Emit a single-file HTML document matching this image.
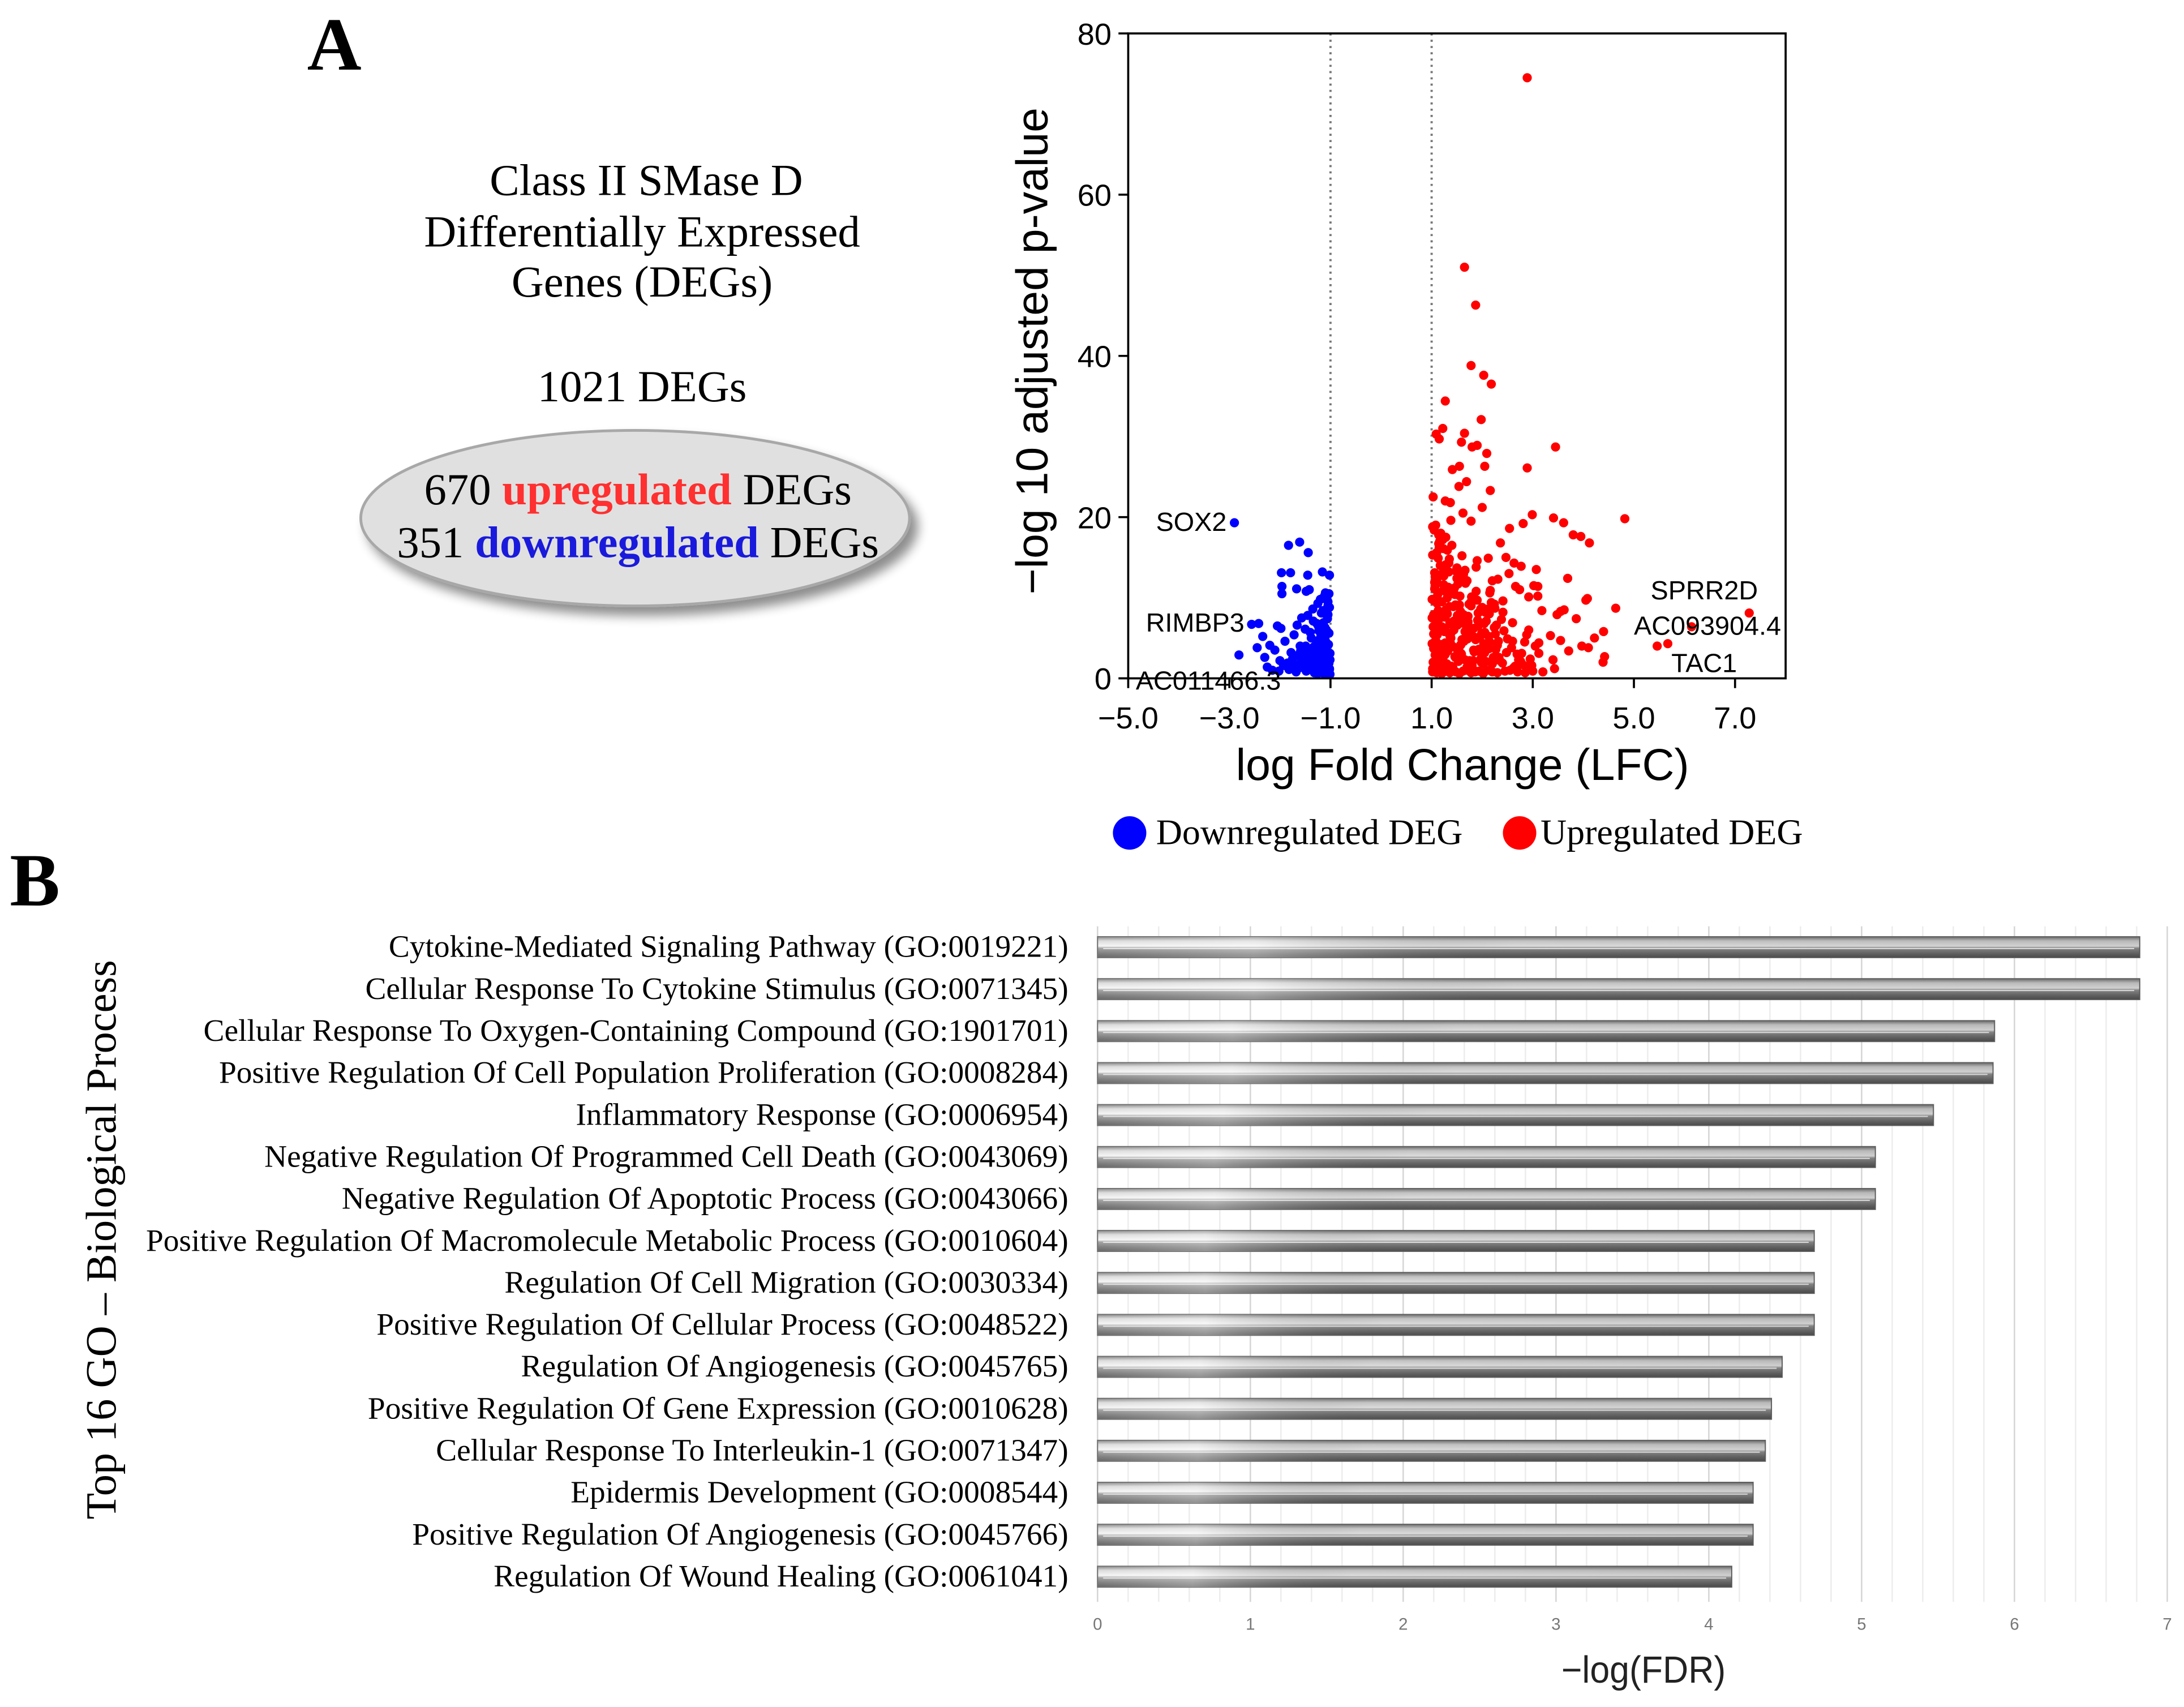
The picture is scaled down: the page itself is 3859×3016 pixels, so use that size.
<!DOCTYPE html>
<html><head><meta charset="utf-8">
<style>
html,body{margin:0;padding:0;background:#fff;}
svg{display:block;}
.serif{font-family:"Liberation Serif",serif;}
.sans{font-family:"Liberation Sans",sans-serif;}
</style></head>
<body>
<svg id="fig" width="3859" height="3016" viewBox="0 0 1568 1225.5" xmlns="http://www.w3.org/2000/svg">
<defs>
  <linearGradient id="barGrad" x1="0" y1="0" x2="0" y2="1">
    <stop offset="0" stop-color="#7a7a7a"/>
    <stop offset="0.2" stop-color="#d8d8d8"/>
    <stop offset="0.45" stop-color="#f4f4f4"/>
    <stop offset="0.55" stop-color="#9a9a9a"/>
    <stop offset="0.8" stop-color="#707070"/>
    <stop offset="1" stop-color="#555"/>
  </linearGradient>
  <linearGradient id="barShade" x1="0" y1="0" x2="1" y2="0">
    <stop offset="0" stop-color="#fff" stop-opacity="0.1"/>
    <stop offset="0.15" stop-color="#fff" stop-opacity="0.35"/>
    <stop offset="0.4" stop-color="#000" stop-opacity="0.1"/>
    <stop offset="1" stop-color="#000" stop-opacity="0.15"/>
  </linearGradient>
  <filter id="shadow" x="-20%" y="-20%" width="150%" height="160%">
    <feGaussianBlur in="SourceAlpha" stdDeviation="4"/>
    <feOffset dx="5" dy="6"/>
    <feComponentTransfer><feFuncA type="linear" slope="0.45"/></feComponentTransfer>
    <feMerge><feMergeNode/><feMergeNode in="SourceGraphic"/></feMerge>
  </filter>
</defs>

<text class="serif" x="240" y="50" font-size="54" font-weight="bold" text-anchor="middle">A</text>
<g class="serif" font-size="32" text-anchor="middle" fill="#000">
  <text x="464" y="140">Class II SMase D</text>
  <text x="461" y="177">Differentially Expressed</text>
  <text x="461" y="213">Genes (DEGs)</text>
  <text x="461" y="288">1021 DEGs</text>
</g>
<ellipse cx="456" cy="372" rx="197" ry="63" fill="#e0e0e0" stroke="#a8a8a8" stroke-width="2" filter="url(#shadow)"/>
<text class="serif" x="458" y="362" font-size="32" text-anchor="middle">670 <tspan fill="#ff3030" font-weight="bold">upregulated</tspan> DEGs</text>
<text class="serif" x="458" y="400" font-size="32" text-anchor="middle">351 <tspan fill="#1a1adc" font-weight="bold">downregulated</tspan> DEGs</text>

<g id="volcano"></g>

<circle cx="811" cy="598" r="12" fill="#0000ff"/>
<text class="serif" x="830" y="606" font-size="26">Downregulated DEG</text>
<circle cx="1091" cy="598" r="12" fill="#ff0000"/>
<text class="serif" x="1106" y="606" font-size="26">Upregulated DEG</text>

<text class="serif" x="25" y="650" font-size="54" font-weight="bold" text-anchor="middle">B</text>
<text class="serif" x="0" y="0" font-size="31" text-anchor="middle" transform="translate(83,890) rotate(-90)">Top 16 GO – Biological Process</text>
<g id="bars"></g>
<text class="sans" x="1180" y="1208" font-size="27" text-anchor="middle" fill="#222" textLength="118" lengthAdjust="spacingAndGlyphs">−log(FDR)</text>
</svg>

<script>
var NS='http://www.w3.org/2000/svg';
function mk(tag,attrs,parent){var e=document.createElementNS(NS,tag);for(var k in attrs)e.setAttribute(k,attrs[k]);parent.appendChild(e);return e;}

var volXTicks=[-5,-3,-1,1,3,5,7];
var volXTickLabels=['−5.0','−3.0','−1.0','1.0','3.0','5.0','7.0'];
var volYTicks=[0,20,40,60,80];
var upLFC=[2.89,1.65,1.87,1.78,2.03,2.18,1.27,1.98,1.22,1.09,1.15,1.65,3.45,1.59,1.8,1.9,2.09,2.89,1.41,1.55,2.05,1.69,1.54,2.16,1.03,1.27,1.37,1.62,2.0,1.78,4.82,2.99,3.41,3.61,3.8,3.95,4.12,2.54,2.81,3.69,4.64,7.28,6.14,5.46,5.67,4.42,4.39,4.22,4.4,4.05,4.08,3.97,4.1,3.86,3.55,3.62,3.48,3.55,3.71,3.35,3.4,3.43,3.12,3.12,3.18,3.1,3.07,3.1,3.02,2.92,2.77,2.63,2.47,2.74,2.53,2.66,2.41,2.41,2.43,2.6,2.69,2.8,2.65,2.84,2.88,2.92,2.38,2.24,2.31,2.36,2.2,2.25,2.3,2.15,2.12,2.05,
1.02,1.05,1.08,1.1,1.12,1.15,1.18,1.2,1.22,1.25,1.28,1.3,1.33,1.36,1.4,1.43,1.46,1.5,1.53,1.57,1.6,1.64,1.68,1.72,1.76,1.8,1.85,1.9,1.95,2.0,
1.03,1.06,1.09,1.13,1.16,1.19,1.23,1.26,1.29,1.34,1.38,1.42,1.47,1.51,1.55,1.59,1.63,1.67,1.71,1.75,1.79,1.83,1.88,1.93,1.97,2.02,2.08,2.13,2.18,2.22,
1.01,1.04,1.07,1.11,1.14,1.17,1.21,1.24,1.27,1.31,1.35,1.39,1.44,1.48,1.52,1.56,1.61,1.66,1.7,1.74,1.78,1.82,1.87,1.92,1.98,2.04,2.1,2.16,2.26,2.33,
1.02,1.05,1.1,1.14,1.2,1.24,1.3,1.36,1.42,1.48,1.55,1.62,1.7,1.78,1.86,1.94,2.02,2.1,2.2,2.3,2.45,2.55,2.7,2.85,3.0,3.2,1.08,1.18,1.28,1.38,
1.01,1.04,1.06,1.09,1.12,1.15,1.18,1.21,1.24,1.28,1.32,1.35,1.4,1.45,1.5,1.55,1.6,1.66,1.72,1.8,1.88,1.96,2.06,2.14,2.24,2.35,2.5,2.62,2.78,2.95,
1.02,1.05,1.07,1.1,1.13,1.16,1.19,1.23,1.26,1.3,1.34,1.38,1.43,1.47,1.52,1.58,1.64,1.7,1.77,1.84,1.91,1.99,2.07,2.15,2.28,2.4,2.58,2.72,2.9,3.05,
1.01,1.03,1.06,1.08,1.11,1.14,1.17,1.2,1.23,1.27,1.31,1.36,1.41,1.46,1.51,1.57,1.63,1.69,1.75,1.83,1.9,1.97,2.05,2.12,2.2,2.32,2.48,2.6,2.76,2.98,
1.02,1.04,1.07,1.1,1.13,1.17,1.22,1.26,1.31,1.37,1.44,1.5,1.58,1.66,1.74,1.82,1.92,2.03,2.14,2.27];
var upP=[74.5,51,46.3,38.8,37.6,36.5,34.4,32.1,31,30.3,29.7,30.4,28.7,29.3,28.7,28.9,27.9,26.1,25.9,26.3,26.3,24.4,23.8,23.3,22.5,22,21.8,20.5,21.2,19.5,19.8,20.3,19.9,19.3,17.8,17.6,16.8,18.6,19.2,12.4,8.7,8.1,6.4,4.0,4.3,2.7,2.0,5.0,5.8,9.7,9.9,4.0,3.8,7.4,8.3,8.5,7.9,4.7,3.4,5.3,2.3,1.2,4.4,3.1,8.4,10.2,13.5,11.4,11.5,10.1,13.9,14.3,15.0,11.0,13.0,11.4,9.6,8.2,5.9,4.6,3.0,1.7,1.5,4.5,5.4,6.0,7.3,9.2,12.3,16.8,12.1,8.7,4.1,10.6,14.9,3.2,
1.2,18.4,3.5,15.6,7.2,12.8,2.4,9.5,17.2,5.8,14.1,1.6,11.3,6.9,16.5,3.9,10.4,13.7,2.1,8.3,15.2,4.6,12.0,7.7,1.4,9.9,5.1,14.6,3.3,8.8,
6.4,11.1,1.9,14.9,8.0,4.2,16.1,2.9,10.7,13.2,5.6,1.3,9.1,6.6,12.5,3.0,7.9,11.8,4.9,2.2,10.1,6.2,13.8,3.6,8.6,1.8,7.1,5.2,9.4,2.6,
9.8,3.7,12.6,5.4,17.8,7.5,2.7,11.6,4.4,15.9,8.9,1.5,6.0,13.3,3.2,10.2,7.4,2.3,12.1,5.7,9.0,1.1,4.8,8.1,2.0,6.8,3.9,10.9,5.5,2.6,
0.8,0.9,0.7,1.0,0.6,0.8,0.9,0.7,1.0,0.8,0.6,0.9,1.0,0.7,0.8,0.9,0.6,1.0,0.8,0.7,0.9,1.0,0.8,0.7,0.9,0.8,19.0,18.0,17.5,19.6,
4.3,7.9,13.1,2.8,10.4,16.2,5.9,1.9,12.7,8.5,3.4,14.8,6.7,11.2,2.5,9.1,4.8,13.4,7.0,1.6,10.8,5.2,8.2,3.7,6.3,2.2,4.9,1.3,3.1,2.4,
15.3,9.6,2.9,12.2,6.1,17.0,3.6,10.9,7.6,1.8,14.3,5.0,8.9,2.6,11.7,4.2,6.8,1.4,9.4,3.3,7.2,5.6,2.1,4.5,6.6,1.9,3.8,2.3,1.5,4.0,
7.5,2.0,11.9,4.7,9.3,16.7,1.7,6.4,13.6,3.0,8.0,5.3,10.6,2.7,7.8,4.1,12.9,1.2,6.0,3.5,9.7,2.4,5.7,8.6,1.8,4.6,3.2,6.9,2.1,1.6,
18.8,5.5,11.5,3.9,8.4,14.0,2.5,6.2,10.0,4.4,7.1,12.4,3.1,5.8,9.2,2.2,6.5,4.3,8.0,3.6];
var downLFC=[-2.9,-1.83,-1.61,-1.44,-1.97,-1.79,-1.16,-1.02,-1.45,-1.96,-1.67,-1.96,-1.48,-1.42,-1.1,-2.56,-2.42,-2.81,-2.34,-2.05,-1.98,-1.66,-1.57,-1.45,-1.35,-1.25,-1.2,-1.12,-1.05,-1.03,
-2.45,-2.3,-2.2,-2.1,-2.0,-1.9,-1.85,-1.78,-1.72,-1.65,-1.6,-1.55,-1.5,-1.46,-1.41,-1.38,-1.34,-1.3,-1.27,-1.24,-1.21,-1.18,-1.15,-1.12,-1.09,-1.06,-1.04,-1.02,-1.01,-1.08,
-2.25,-2.15,-2.02,-1.93,-1.82,-1.75,-1.68,-1.62,-1.53,-1.48,-1.43,-1.36,-1.32,-1.28,-1.22,-1.17,-1.13,-1.1,-1.07,-1.03,-1.14,-1.19,-1.26,-1.31,-1.05,-1.02,-1.11,-1.16,-1.23,-1.29,
-1.01,-1.03,-1.05,-1.07,-1.09,-1.11,-1.13,-1.15,-1.17,-1.19,-1.21,-1.24,-1.27,-1.3,-1.33,-1.37,-1.4,-1.44,-1.49,-1.54,-1.59,-1.64,-1.7,-1.77,-1.86,-1.02,-1.06,-1.1,-1.14,-1.18,
-1.22,-1.26,-1.32,-1.38,-1.45,-1.52,-1.6,-1.72,-1.04,-1.08,-1.12,-1.16,-1.2,-1.25,-1.35,-1.01,-1.03,-1.06,-1.09,-1.13];
var downP=[19.3,16.5,16.9,15.6,13.1,13.1,13.2,12.8,12.8,11.4,11.1,10.5,10.8,11.0,10.6,6.7,6.8,2.9,5.2,6.5,6.2,6.6,7.5,7.8,8.6,9.3,9.8,10.2,9.0,10.5,
3.8,2.6,4.1,3.5,2.2,4.6,1.9,3.2,5.4,2.8,4.0,1.5,6.1,3.4,2.1,5.0,7.1,1.2,4.4,6.5,2.5,8.1,3.7,5.8,1.7,7.4,4.2,8.8,2.3,6.0,
1.4,1.0,0.9,1.6,1.1,2.4,0.8,1.3,2.9,0.9,1.8,3.0,0.7,2.2,4.8,1.0,3.6,5.5,7.8,0.6,6.9,1.5,2.7,0.9,9.5,1.2,4.9,3.3,5.9,0.8,
3.1,5.6,7.9,2.4,4.5,6.3,1.6,8.4,3.0,5.2,2.0,4.1,6.8,1.3,3.9,2.6,5.7,1.8,4.0,2.3,3.4,1.4,2.8,1.9,1.5,1.1,2.0,3.3,4.7,2.9,
1.7,3.8,2.5,1.2,3.6,2.2,1.8,1.3,0.9,0.7,1.3,0.8,1.0,0.6,1.5,0.5,1.9,1.1,0.8,0.6];
var volLabels=['SOX2','RIMBP3','AC011466.3','SPRR2D','AC093904.4','TAC1'];
var volLabelLFC=[-4.45,-4.65,-4.85,5.33,5.0,5.74];
var volLabelP=[19.5,7.0,-0.2,11.0,6.6,2.0];

var goTerms=['Cytokine-Mediated Signaling Pathway (GO:0019221)','Cellular Response To Cytokine Stimulus (GO:0071345)','Cellular Response To Oxygen-Containing Compound (GO:1901701)','Positive Regulation Of Cell Population Proliferation (GO:0008284)','Inflammatory Response (GO:0006954)','Negative Regulation Of Programmed Cell Death (GO:0043069)','Negative Regulation Of Apoptotic Process (GO:0043066)','Positive Regulation Of Macromolecule Metabolic Process (GO:0010604)','Regulation Of Cell Migration (GO:0030334)','Positive Regulation Of Cellular Process (GO:0048522)','Regulation Of Angiogenesis (GO:0045765)','Positive Regulation Of Gene Expression (GO:0010628)','Cellular Response To Interleukin-1 (GO:0071347)','Epidermis Development (GO:0008544)','Positive Regulation Of Angiogenesis (GO:0045766)','Regulation Of Wound Healing (GO:0061041)'];
var goValues=[6.82,6.82,5.87,5.86,5.47,5.09,5.09,4.69,4.69,4.69,4.48,4.41,4.37,4.29,4.29,4.15];
var goTicks=[0,1,2,3,4,5,6,7];

var vx0=810, vx1=1282, vy0=487, vy1=24, xmin=-5, xmax=8, ymin=0, ymax=80;
function vX(v){return vx0+(v-xmin)/(xmax-xmin)*(vx1-vx0);}
function vY(v){return vy0-(v-ymin)/(ymax-ymin)*(vy0-vy1);}
var vg=document.getElementById('volcano');
[-1,1].forEach(function(t){
  var l=mk('line',{x1:vX(t),x2:vX(t),y1:vy1,y2:vy0,stroke:'#777','stroke-width':1.6,'stroke-dasharray':'1.5 3'},vg);
  
  
});
for(var i=0;i<downLFC.length;i++){
  var c=mk('circle',{cx:vX(downLFC[i]),cy:vY(downP[i]),r:3.3,fill:'#0000ff'},vg);
  
  
}
for(var i=0;i<upLFC.length;i++){
  var c=mk('circle',{cx:vX(upLFC[i]),cy:vY(upP[i]),r:3.3,fill:'#ff0000'},vg);
  
  
}
var frame=mk('rect',{x:vx0,y:vy1,width:vx1-vx0,height:vy0-vy1,fill:'none',stroke:'#000','stroke-width':1.5},vg);


for(var i=0;i<volXTicks.length;i++){
  var x=vX(volXTicks[i]);
  mk('line',{x1:x,x2:x,y1:vy0,y2:vy0+7,stroke:'#000','stroke-width':1.5},vg);
  var t=mk('text',{x:x,y:vy0+36,'font-size':22,'text-anchor':'middle','font-family':'Liberation Sans, sans-serif'},vg);
  t.textContent=volXTickLabels[i];
  
  
}
for(var i=0;i<volYTicks.length;i++){
  var y=vY(volYTicks[i]);
  mk('line',{x1:vx0-7,x2:vx0,y1:y,y2:y,stroke:'#000','stroke-width':1.5},vg);
  var t=mk('text',{x:vx0-12,y:y+8,'font-size':22,'text-anchor':'end','font-family':'Liberation Sans, sans-serif'},vg);
  t.textContent=volYTicks[i];
  
  
}
for(var i=0;i<volLabels.length;i++){
  var t=mk('text',{x:vX(volLabelLFC[i]),y:vY(volLabelP[i])+7,'font-size':19,'font-family':'Liberation Sans, sans-serif'},vg);
  t.textContent=volLabels[i];
  
  
}
var yt=mk('text',{x:0,y:0,'font-size':32,'text-anchor':'middle','font-family':'Liberation Sans, sans-serif',transform:'translate(752,252) rotate(-90)'},vg);
yt.textContent='−log 10 adjusted p-value';


var xt=mk('text',{x:1050,y:560,'font-size':32,'text-anchor':'middle','font-family':'Liberation Sans, sans-serif'},vg);
xt.textContent='log Fold Change (LFC)';



var bx0=788, bx1=1556, by0=665, by1=1150, bmax=7, row0=680, rowStep=30.13;
function bX(v){return bx0+v/bmax*(bx1-bx0);}
function bRow(i){return row0+i*rowStep;}
var bg=document.getElementById('bars');
for(var m=0;m<=bmax*5;m++){
  var v=m/5, x=bX(v), major=(m%5===0);
  var gl=mk('line',{x1:x,x2:x,y1:by0,y2:by1,stroke:major?'#d4d4d4':'#ececec','stroke-width':1},bg);
  
  
}
for(var i=0;i<goTicks.length;i++){
  var t=mk('text',{x:bX(goTicks[i]),y:1170,'font-size':12,'text-anchor':'middle',fill:'#777','font-family':'Liberation Sans, sans-serif'},bg);
  t.textContent=goTicks[i];
  
  
}
for(var i=0;i<goValues.length;i++){
  var cy=bRow(i), w=bX(goValues[i])-bx0, h=15;
  var r=mk('rect',{x:bx0,y:cy-h/2,width:w,height:h,fill:'url(#barGrad)',stroke:'#666','stroke-width':0.8},bg);
  
  
  mk('rect',{x:bx0,y:cy-h/2,width:w,height:h,fill:'url(#barShade)'},bg);
  mk('line',{x1:bx0+4,x2:bx0+w-4,y1:cy+1,y2:cy+1,stroke:'#fff','stroke-width':0.8,'stroke-opacity':0.7},bg);
  var t=mk('text',{x:767,y:cy+7,'font-size':22.5,'text-anchor':'end','font-family':'Liberation Serif, serif'},bg);
  t.textContent=goTerms[i];
  
  
}
</script>
</body></html>
